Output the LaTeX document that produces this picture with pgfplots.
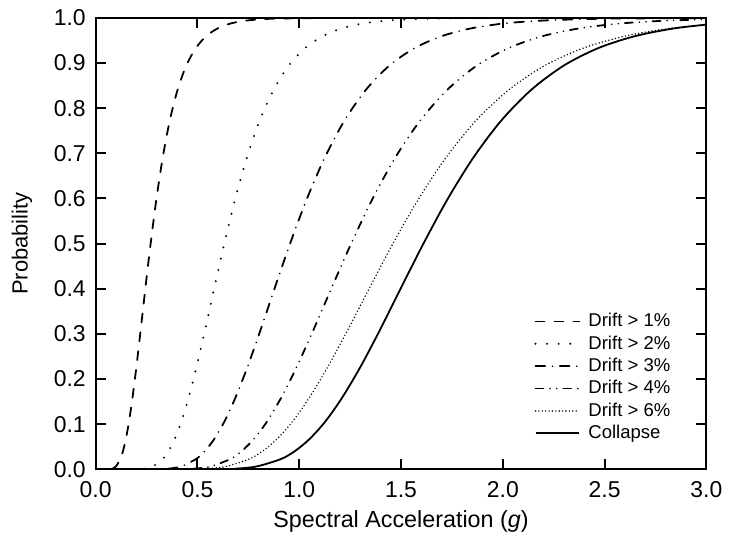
\documentclass[border=0pt]{standalone}
\usepackage{fontspec}
\setmainfont{Liberation Sans}
\usepackage{pgfplots}
\pgfplotsset{compat=1.18}
\begin{document}
\begin{tikzpicture}
\begin{axis}[
  at={(0,0)}, anchor=south west,
  scale only axis, width=306.5pt, height=226.5pt,
  xmin=0, xmax=3, ymin=0, ymax=1,
  axis line style={line width=1pt},
  every tick/.style={line width=1pt, black},
  major tick length=5pt,
  tick align=inside,
  xtick={0,0.5,1,1.5,2,2.5,3},
  ytick={0,0.1,0.2,0.3,0.4,0.5,0.6,0.7,0.8,0.9,1},
  /pgf/number format/assume math mode=true,
  /pgf/number format/fixed,
  /pgf/number format/fixed zerofill,
  /pgf/number format/precision=1,
  tick label style={font=\fontsize{11.5}{13}\selectfont},
  xticklabel style={yshift=-2.5pt},
  yticklabel style={xshift=-1.5pt},
  xlabel={Spectral Acceleration (\textit{g})},
  ylabel={Probability},
  every axis x label/.style={at={(axis description cs:0.5,-0.1165)}, anchor=center, font=\fontsize{11.7}{14}\selectfont},
  every axis y label/.style={at={(axis description cs:-0.1207,0.5)}, anchor=center, rotate=90, font=\fontsize{11}{13}\selectfont},
  legend style={draw=none, fill=none, at={(axis description cs:0.7145,0.36)}, anchor=north west,
    font=\fontsize{9.3}{11}\selectfont, row sep=-1pt, inner sep=1pt},
  legend cell align=left,
  legend image code/.code={\draw[#1] (0pt,0pt) -- (22pt,0pt); \path (24pt,0pt);},
  clip=true,
]
% Drift > 1%
\addplot[black, line width=0.9pt, line cap=round, dash pattern=on 4.5pt off 5pt, smooth] coordinates {
(0.0813,0.0013)(0.0993,0.0062)(0.1213,0.0228)(0.1341,0.0401)(0.1482,0.0668)(0.1638,0.1056)(0.1810,0.1587)(0.2000,0.2266)(0.2211,0.3085)(0.2443,0.4013)(0.2700,0.5)(0.2984,0.5987)(0.3298,0.6915)(0.3645,0.7734)(0.4028,0.8413)(0.4452,0.8944)(0.4920,0.9332)(0.5437,0.9599)(0.6009,0.9772)(0.6641,0.9878)(0.7339,0.9938)(0.8111,0.9970)(0.8964,0.9987)(1.0949,0.9998)};
\addlegendentry{Drift > 1\%}
% Drift > 2%
\addplot[black, line width=1.1pt, line cap=round, dash pattern=on 0pt off 5.8pt, smooth] coordinates {
(0.2384,0.0013)(0.2804,0.0062)(0.3299,0.0228)(0.3578,0.0401)(0.3882,0.0668)(0.4210,0.1056)(0.4566,0.1587)(0.4953,0.2266)(0.5372,0.3085)(0.5827,0.4013)(0.6320,0.5)(0.6855,0.5987)(0.7435,0.6915)(0.8064,0.7734)(0.8747,0.8413)(0.9488,0.8944)(1.0290,0.9332)(1.1162,0.9599)(1.2106,0.9772)(1.3131,0.9878)(1.4242,0.9938)(1.5447,0.9970)(1.6756,0.9987)(1.9711,0.9998)(3.0,1.0)};
\addlegendentry{Drift > 2\%}
% Drift > 3%
\addplot[black, line width=0.9pt, line cap=round, dash pattern=on 4.8pt off 3.7pt on 0pt off 3.7pt, smooth] coordinates {
(0.3549,0.0013)(0.4185,0.0062)(0.4936,0.0228)(0.5360,0.0401)(0.5822,0.0668)(0.6322,0.1056)(0.6865,0.1587)(0.7456,0.2266)(0.8097,0.3085)(0.8794,0.4013)(0.9550,0.5)(1.0371,0.5987)(1.1263,0.6915)(1.2232,0.7734)(1.3284,0.8413)(1.4426,0.8944)(1.5667,0.9332)(1.7014,0.9599)(1.8477,0.9772)(2.0066,0.9878)(2.1792,0.9938)(2.3667,0.9970)(2.5701,0.9987)(3.031,0.9998)};
\addlegendentry{Drift > 3\%}
% Drift > 4%
\addplot[black, line width=0.9pt, line cap=round, dash pattern=on 4pt off 3.3pt on 0pt off 3.3pt on 0pt off 3.3pt, smooth] coordinates {
(0.4805,0.0013)(0.5639,0.0062)(0.6618,0.0228)(0.7169,0.0401)(0.7766,0.0668)(0.8413,0.1056)(0.9113,0.1587)(0.9872,0.2266)(1.0694,0.3085)(1.1585,0.4013)(1.2550,0.5)(1.3595,0.5987)(1.4728,0.6915)(1.5954,0.7734)(1.7283,0.8413)(1.8722,0.8944)(2.0282,0.9332)(2.1971,0.9599)(2.3801,0.9772)(2.5783,0.9878)(2.7930,0.9938)(3.0257,0.9970)};
\addlegendentry{Drift > 4\%}
% Drift > 6%
\addplot[black, line width=0.8pt, line cap=round, dash pattern=on 0pt off 1.7pt, smooth] coordinates {
(0.5425,0.0013)(0.6398,0.0062)(0.7547,0.0228)(0.8195,0.0401)(0.8900,0.0668)(0.9665,0.1056)(1.0496,0.1587)(1.1398,0.2266)(1.2379,0.3085)(1.3444,0.4013)(1.4600,0.5)(1.5856,0.5987)(1.7219,0.6915)(1.8700,0.7734)(2.0309,0.8413)(2.2055,0.8944)(2.3951,0.9332)(2.6011,0.9599)(2.8248,0.9772)(3.0678,0.9878)};
\addlegendentry{Drift > 6\%}
% Collapse
\addplot[black, line width=0.9pt, smooth] coordinates {
(0.6847,0.0013)(0.7895,0.0062)(0.9105,0.0228)(0.9778,0.0401)(1.0500,0.0668)(1.1275,0.1056)(1.2107,0.1587)(1.3002,0.2266)(1.3962,0.3085)(1.4992,0.4013)(1.6100,0.5)(1.7288,0.5987)(1.8566,0.6915)(1.9937,0.7734)(2.1410,0.8413)(2.2991,0.8944)(2.4688,0.9332)(2.6512,0.9599)(2.8470,0.9772)(3.0572,0.9878)};
\addlegendentry{Collapse}
\end{axis}
\useasboundingbox (-48pt,-41.5pt) rectangle (316.5pt,235.5pt);
\end{tikzpicture}
\end{document}
